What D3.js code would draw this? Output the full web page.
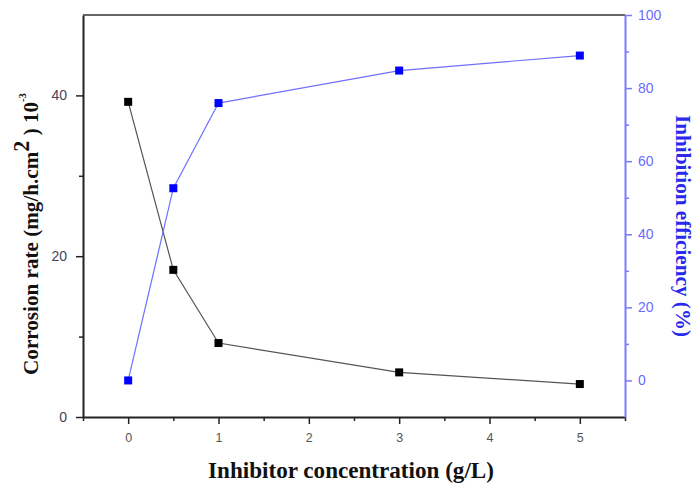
<!DOCTYPE html>
<html>
<head>
<meta charset="utf-8">
<script src="https://cdn.jsdelivr.net/npm/d3@7"></script>
<style>
  body { margin: 0; background: #fff; }
  svg { display: block; }
  .tick text { font-family: "Liberation Sans", Arial, sans-serif; }
</style>
</head>
<body>
<div id="chart"></div>
<script>
const concentration = [0, 0.5, 1, 3, 5];
const corrosionRate = [39.2, 18.3, 9.2, 5.55, 4.1];
const efficiency = [0, 52.6, 75.9, 84.8, 88.9];
const xTicks = [0, 1, 2, 3, 4, 5];
const leftTicks = [0, 20, 40];
const rightTicks = [0, 20, 40, 60, 80, 100];

const w = 696;
const h = 483;
const margin = { top: 15, right: 71, bottom: 66, left: 83 };
const iw = w - margin.left - margin.right;
const ih = h - margin.top - margin.bottom;
const blue = '#0000ff';
const lightBlue = '#7a7aff';

const x = d3.scaleLinear().domain([-0.5, 5.5]).range([0, iw]);
const yL = d3.scaleLinear().domain([0, 50]).range([ih, 0]);
const yR = d3.scaleLinear().domain([-10, 100]).range([ih, 0]);

const svg = d3.select('#chart').append('svg')
  .attr('width', w)
  .attr('height', h);

const g = svg.append('g')
  .attr('transform', `translate(${margin.left},${margin.top})`);

// top frame line
g.append('line')
  .attr('x1', 0).attr('x2', iw)
  .attr('y1', 0).attr('y2', 0)
  .attr('stroke', '#333').attr('stroke-width', 1.5);

// bottom axis
const xMinor = d3.range(-0.5, 5.51, 0.5).filter(v => !xTicks.includes(v));
g.append('g')
  .attr('transform', `translate(0,${ih})`)
  .call(d3.axisBottom(x).tickValues(xMinor).tickSize(4).tickFormat(''))
  .call(a => a.select('.domain').remove())
  .selectAll('line').attr('stroke', '#222').attr('stroke-width', 1.5);
const xAxis = g.append('g')
  .attr('transform', `translate(0,${ih})`)
  .call(d3.axisBottom(x).tickValues(xTicks).tickSize(7).tickSizeOuter(0).tickPadding(9)
    .tickFormat(d3.format('d')));
xAxis.select('.domain').attr('stroke', '#222').attr('stroke-width', 2);
xAxis.selectAll('line').attr('stroke', '#222').attr('stroke-width', 1.5);
xAxis.selectAll('text').attr('font-size', 12.5).attr('fill', '#555');

// left axis
g.append('g')
  .call(d3.axisLeft(yL).tickValues([10, 30]).tickSize(4).tickFormat(''))
  .call(a => a.select('.domain').remove())
  .selectAll('line').attr('stroke', '#222').attr('stroke-width', 1.5);
const yAxisL = g.append('g')
  .call(d3.axisLeft(yL).tickValues(leftTicks).tickSize(7).tickSizeOuter(0).tickPadding(9));
yAxisL.select('.domain').attr('stroke', '#222').attr('stroke-width', 2);
yAxisL.selectAll('line').attr('stroke', '#222').attr('stroke-width', 1.5);
yAxisL.selectAll('text').attr('font-size', 14).attr('fill', '#444455');

// right axis
g.append('g')
  .attr('transform', `translate(${iw},0)`)
  .call(d3.axisRight(yR).tickValues(d3.range(10, 100, 20)).tickSize(4).tickFormat(''))
  .call(a => a.select('.domain').remove())
  .selectAll('line').attr('stroke', lightBlue).attr('stroke-width', 1.5);
const yAxisR = g.append('g')
  .attr('transform', `translate(${iw},0)`)
  .call(d3.axisRight(yR).tickValues(rightTicks).tickSize(7).tickSizeOuter(0).tickPadding(6));
yAxisR.select('.domain').attr('stroke', lightBlue).attr('stroke-width', 2);
yAxisR.selectAll('line').attr('stroke', lightBlue).attr('stroke-width', 1.5);
yAxisR.selectAll('text').attr('font-size', 14).attr('fill', '#6a6aff');

// lines
const crData = concentration.map((c, i) => ({ c, v: corrosionRate[i] }));
const ieData = concentration.map((c, i) => ({ c, v: efficiency[i] }));

g.append('path')
  .datum(crData)
  .attr('fill', 'none')
  .attr('stroke', '#555')
  .attr('stroke-width', 1.2)
  .attr('d', d3.line().x(d => x(d.c)).y(d => yL(d.v)));

g.append('path')
  .datum(ieData)
  .attr('fill', 'none')
  .attr('stroke', '#6f6fff')
  .attr('stroke-width', 1.2)
  .attr('d', d3.line().x(d => x(d.c)).y(d => yR(d.v)));

const size = 8;
g.selectAll('rect.cr')
  .data(crData)
  .enter().append('rect')
  .attr('class', 'cr')
  .attr('x', d => x(d.c) - size / 2)
  .attr('y', d => yL(d.v) - size / 2)
  .attr('width', size)
  .attr('height', size)
  .attr('fill', '#000');

g.selectAll('rect.ie')
  .data(ieData)
  .enter().append('rect')
  .attr('class', 'ie')
  .attr('x', d => x(d.c) - size / 2)
  .attr('y', d => yR(d.v) - size / 2)
  .attr('width', size)
  .attr('height', size)
  .attr('fill', blue);

// axis titles (condensed bold serif, squeezed to the reference length)
const serif = '"Liberation Serif", "Times New Roman", serif';

function squeeze(sel, target) {
  const len = sel.node().getComputedTextLength();
  return target / len;
}

const xt = svg.append('text')
  .attr('text-anchor', 'middle')
  .attr('font-family', serif)
  .attr('font-weight', 'bold')
  .attr('font-size', 23.5)
  .attr('fill', '#111')
  .text('Inhibitor concentration (g/L)');
xt.attr('transform', `translate(351,478) scale(${squeeze(xt, 286)},1)`);

const lt = svg.append('text')
  .attr('text-anchor', 'middle')
  .attr('font-family', serif)
  .attr('font-weight', 'bold')
  .attr('font-size', 22)
  .attr('fill', '#111');
lt.append('tspan').text('Corrosion rate (mg/h.cm');
lt.append('tspan').attr('dy', -9).attr('font-size', 23).text('2');
lt.append('tspan').attr('dy', 9).text(' ) 10');
lt.append('tspan').attr('dy', -12).attr('font-size', 11).text('-3');
lt.attr('transform', `translate(37.5,234) rotate(-90) scale(${squeeze(lt, 282)},1)`);

const rt = svg.append('text')
  .attr('text-anchor', 'middle')
  .attr('font-family', serif)
  .attr('font-weight', 'bold')
  .attr('font-size', 21.5)
  .attr('fill', '#2a2aee')
  .text('Inhibition efficiency (%)');
rt.attr('transform', `translate(676,226) rotate(90) scale(${squeeze(rt, 222)},1)`);
</script>
</body>
</html>
